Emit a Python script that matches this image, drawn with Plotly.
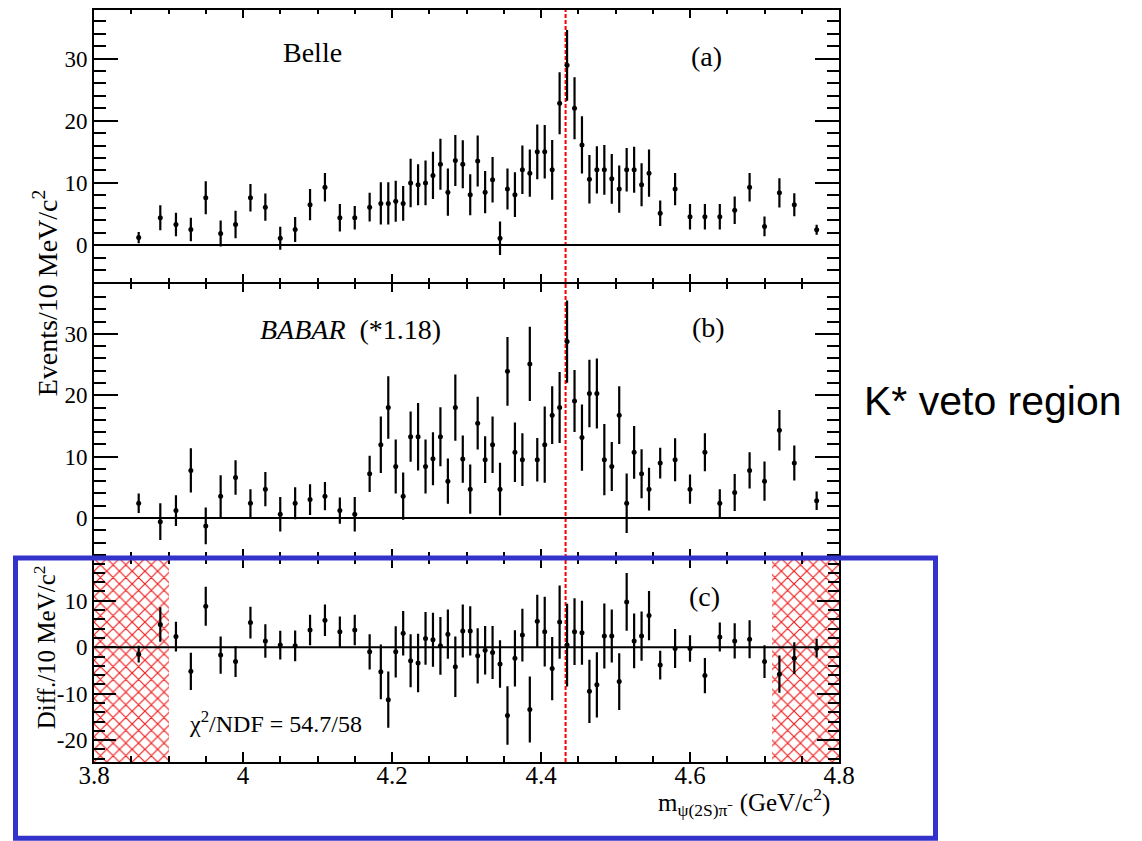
import plotly.graph_objects as go

# ---------------- data ----------------
mass = [3.86, 3.889, 3.91, 3.93, 3.95, 3.97, 3.99, 4.01, 4.03, 4.05, 4.07, 4.09, 4.11, 4.13, 4.15, 4.17,
        4.185, 4.195, 4.205, 4.215, 4.225, 4.235, 4.245, 4.255, 4.265, 4.275, 4.285, 4.295,
        4.305, 4.315, 4.325, 4.335, 4.345, 4.355, 4.365, 4.375, 4.385, 4.395, 4.405, 4.415,
        4.425, 4.435, 4.445, 4.455, 4.465, 4.475, 4.485, 4.495, 4.505, 4.515, 4.525, 4.535, 4.545,
        4.56, 4.58, 4.60, 4.62, 4.64, 4.66, 4.68, 4.70, 4.72, 4.74, 4.77]

belle_y = [1.2, 4.4, 3.3, 2.5, 7.6, 1.85, 3.3, 7.6, 6.1, 1.1, 2.5, 6.5, 9.3, 4.4, 4.4, 6.1,
           6.7, 6.7, 7.05, 6.7, 10.0, 9.7, 10.0, 11.2, 13.0, 8.5, 13.6, 13.0,
           8.1, 13.5, 8.5, 10.5, 1.1, 9.0, 8.1, 12.1, 11.55, 15.0, 15.0, 12.1,
           22.8, 28.9, 22.0, 16.1, 10.6, 12.1, 12.1, 10.65, 9.0, 12.1, 12.1, 9.7, 11.55,
           5.1, 9.0, 4.55, 4.55, 4.55, 5.6, 9.3, 3.0, 8.4, 6.5, 2.45]
belle_err = [0.9, 2.0, 1.9, 1.9, 2.65, 2.1, 2.2, 2.2, 2.2, 1.85, 2.0, 2.5, 2.3, 2.2, 1.9, 2.3,
             3.4, 3.4, 3.3, 2.8, 3.9, 3.3, 3.6, 3.8, 4.1, 3.8, 4.1, 3.85,
             3.3, 4.1, 3.4, 3.65, 2.7, 3.3, 3.6, 3.9, 3.8, 4.4, 4.3, 4.8,
             5.0, 5.7, 5.0, 4.6, 3.9, 3.8, 4.0, 4.0, 3.8, 3.5, 3.7, 3.45, 3.8,
             2.05, 2.6, 2.05, 2.05, 2.05, 2.2, 2.3, 1.6, 2.35, 1.85, 0.8]

babar_y = [2.4, -0.6, 1.2, 7.75, -1.3, 3.55, 6.6, 2.4, 4.7, 0.6, 2.4, 3.0, 3.55, 1.2, 0.6, 7.2,
           11.95, 18.0, 8.4, 3.55, 13.25, 13.25, 8.4, 9.65, 13.25, 6.0, 18.0, 9.6,
           4.7, 15.45, 9.5, 11.95, 4.7, 23.9, 10.7, 9.5, 25.1, 9.5, 11.95, 16.75,
           18.0, 28.75, 19.05, 13.1, 20.3, 20.3, 9.5, 8.4, 16.75, 2.4, 10.7, 7.2, 4.7,
           8.95, 9.5, 4.7, 10.7, 2.4, 4.15, 7.75, 6.0, 14.3, 8.95, 2.8]
babar_err = [1.6, 3.0, 2.5, 3.6, 3.0, 3.4, 2.8, 2.3, 2.8, 2.8, 2.6, 2.5, 2.3, 2.15, 2.8, 2.95,
             4.6, 5.1, 4.4, 3.85, 4.1, 5.5, 4.4, 4.3, 4.8, 3.7, 5.4, 3.85,
             4.0, 4.3, 3.8, 4.6, 4.3, 5.6, 4.85, 4.3, 6.05, 3.55, 6.2, 4.7,
             5.8, 6.7, 5.05, 5.4, 5.5, 5.7, 5.8, 4.0, 4.7, 4.85, 4.3, 4.0, 3.5,
             2.5, 3.5, 2.4, 3.1, 2.3, 3.0, 2.95, 3.2, 3.3, 2.85, 1.5]

diff_y = [-1.5, 4.9, 2.3, -5.2, 8.8, -1.7, -3.1, 5.3, 1.35, 0.45, 0.3, 3.7, 5.8, 3.3, 3.7, -1.0,
          -5.3, -11.3, -1.0, 3.0, -2.9, -3.4, 1.9, 1.6, 0.3, 2.8, -4.2, 3.5,
          3.5, -1.85, -0.65, -1.15, -3.6, -14.7, -2.4, 2.6, -13.4, 5.6, 3.35, -4.6,
          5.4, 0.45, 3.35, 3.1, -9.5, -8.1, 2.4, 2.4, -7.4, 9.75, 1.35, 2.4, 6.8,
          -3.85, -0.3, -0.3, -6.1, 2.2, 1.35, 1.7, -3.1, -5.8, -2.35, -0.2]
diff_err = [1.8, 3.7, 3.2, 4.0, 4.2, 4.0, 3.3, 3.4, 3.6, 3.1, 3.3, 3.3, 3.4, 3.3, 3.3, 3.8,
            5.9, 6.05, 5.5, 4.8, 5.7, 6.3, 5.7, 5.8, 6.2, 5.3, 6.5, 5.7,
            5.3, 5.95, 5.2, 5.7, 5.1, 6.3, 6.05, 5.7, 7.1, 5.7, 7.5, 6.8,
            7.9, 8.9, 7.2, 6.9, 6.8, 7.0, 7.0, 5.7, 6.1, 6.2, 5.9, 5.3, 5.3,
            3.1, 4.2, 2.85, 3.8, 3.1, 3.8, 4.1, 3.5, 4.0, 3.4, 2.0]

x_tick_vals = [3.8, 4.0, 4.2, 4.4, 4.6, 4.8]
x_tick_text = ["3.8", "4", "4.2", "4.4", "4.6", "4.8"]
ev_tick_vals = [0, 10, 20, 30]
ev_tick_text = ["0", "10", "20", "30"]
diff_tick_vals = [-20, -10, 0, 10]
diff_tick_text = ["-20", "-10", "0", "10"]

veto_regions = [(3.8, 3.9), (4.71, 4.8)]
z4430_mass = 4.433

x_range = [3.8, 4.8]
range_a = [-6.0, 37.8]
range_b = [-6.3, 38.1]
range_c = [-24.7, 19.1]

# ---------------- geometry helpers ----------------
W, H = 1142, 841
ML, MR, MT, MB = 94, 303, 8, 79
PW, PH = W - ML - MR, H - MT - MB
LW = 1.8


def px_x(px):
    return (px - ML) / PW


def px_y(py):
    return (H - MB - py) / PH


SERIF = "Liberation Serif"

fig = go.Figure()

# veto hatched regions (panel c)
fig.add_trace(go.Bar(
    x=[(a + b) / 2 for a, b in veto_regions],
    y=[range_c[1] - range_c[0]] * len(veto_regions),
    base=[range_c[0]] * len(veto_regions),
    width=[b - a for a, b in veto_regions],
    xaxis="x3", yaxis="y3",
    marker=dict(color="rgba(0,0,0,0)", line=dict(width=0),
                pattern=dict(shape="x", fgcolor="rgb(240,30,30)", bgcolor="rgba(0,0,0,0)",
                             size=9, solidity=0.25, fillmode="replace")),
    showlegend=False, hoverinfo="skip",
))

for yv, err, xa, ya in [(belle_y, belle_err, "x", "y"),
                        (babar_y, babar_err, "x2", "y2"),
                        (diff_y, diff_err, "x3", "y3")]:
    fig.add_trace(go.Scatter(
        x=mass, y=yv, mode="markers", xaxis=xa, yaxis=ya,
        marker=dict(color="black", size=5, symbol="circle"),
        error_y=dict(type="data", array=err, color="black", thickness=2.2, width=0),
        showlegend=False,
    ))

tick_font = dict(family=SERIF, size=23, color="black")

base_axis = dict(showline=True, linecolor="black", linewidth=LW, mirror="allticks",
                 ticks="inside", tickcolor="black", tickwidth=1.5,
                 showgrid=False, zeroline=False)


def xaxis(anchor, show_labels, tl=8, mtl=4.5):
    return dict(base_axis, range=x_range, anchor=anchor, domain=[0, 1],
                tickmode="array", tickvals=x_tick_vals, ticktext=x_tick_text,
                showticklabels=show_labels, ticklen=tl, ticklabelstandoff=-10,
                tickfont=dict(family=SERIF, size=25, color="black"),
                minor=dict(ticks="inside", dtick=0.05, tick0=3.8, ticklen=mtl,
                           tickcolor="black", tickwidth=1.5, showgrid=False))


def yaxis(anchor, rng, dom, tv, tt, tl=24, mtl=12):
    return dict(base_axis, range=rng, anchor=anchor, domain=dom,
                tickmode="array", tickvals=tv, ticktext=tt, ticklen=tl,
                tickfont=tick_font, ticklabelstandoff=0,
                minor=dict(ticks="inside", dtick=2, tick0=0, ticklen=mtl,
                           tickcolor="black", tickwidth=1.5, showgrid=False))


# panel boundaries overlap by one line width so the shared frame lines coincide
half = LW / 2
dom_a = [px_y(282 - half), 1]
dom_b = [px_y(557 - half), px_y(282 + half)]
dom_c = [0, px_y(557 + half)]

fig.update_layout(
    width=W, height=H,
    margin=dict(l=ML, r=MR, t=MT, b=MB),
    paper_bgcolor="white", plot_bgcolor="white",
    bargap=0, showlegend=False,
    xaxis=xaxis("y", False),
    xaxis2=xaxis("y2", False),
    xaxis3=xaxis("y3", True, tl=10, mtl=6),
    yaxis=yaxis("x", range_a, dom_a, ev_tick_vals, ev_tick_text),
    yaxis2=yaxis("x2", range_b, dom_b, ev_tick_vals, ev_tick_text),
    yaxis3=yaxis("x3", range_c, dom_c, diff_tick_vals, diff_tick_text, tl=22, mtl=11),
)

shapes = []
# zero lines
for xr, yr in [("x", "y"), ("x2", "y2"), ("x3", "y3")]:
    shapes.append(dict(type="line", xref=f"{xr} domain", yref=yr, x0=0, x1=1, y0=0, y1=0,
                       line=dict(color="black", width=2), layer="above"))
# red dashed Z(4430) line
shapes.append(dict(type="line", xref="x", yref="paper", x0=z4430_mass, x1=z4430_mass, y0=0, y1=1,
                   line=dict(color="red", width=2, dash="4px,2px"), layer="below"))
# blue highlight box
shapes.append(dict(type="rect", xref="paper", yref="paper",
                   x0=px_x(15.5), x1=px_x(935.5), y0=px_y(838.5), y1=px_y(557.5),
                   line=dict(color="rgb(51,51,204)", width=5), fillcolor="rgba(0,0,0,0)",
                   layer="above"))
fig.update_layout(shapes=shapes)


def ann(text, px, py, size=28, family=SERIF, angle=0, xanchor="center"):
    return dict(text=text, x=px_x(px), y=px_y(py), xref="paper", yref="paper",
                xanchor=xanchor, yanchor="middle", textangle=angle, showarrow=False,
                font=dict(family=family, size=size, color="black"))


annotations = [
    ann("Belle", 312, 51),
    ann("(a)", 706, 55),
    ann("<i>BABAR</i>  (*1.18)", 350, 328),
    ann("(b)", 708, 326),
    ann("(c)", 704, 596),
    ann("χ<sup>2</sup>/NDF = 54.7/58", 275, 722, size=24),
    ann("Events/10 MeV/c<sup>2</sup>", 45, 292, size=28, angle=-90),
    ann("Diff./10 MeV/c<sup>2</sup>", 45, 647, size=25, angle=-90),
    ann("m<sub>ψ(2S)π⁻</sub> (GeV/c<sup>2</sup>)", 832, 802, size=25, xanchor="right"),
    ann("K* veto region", 993, 400, size=41, family="Liberation Sans"),
]
fig.update_layout(annotations=annotations)

fig.write_html("out.html")
